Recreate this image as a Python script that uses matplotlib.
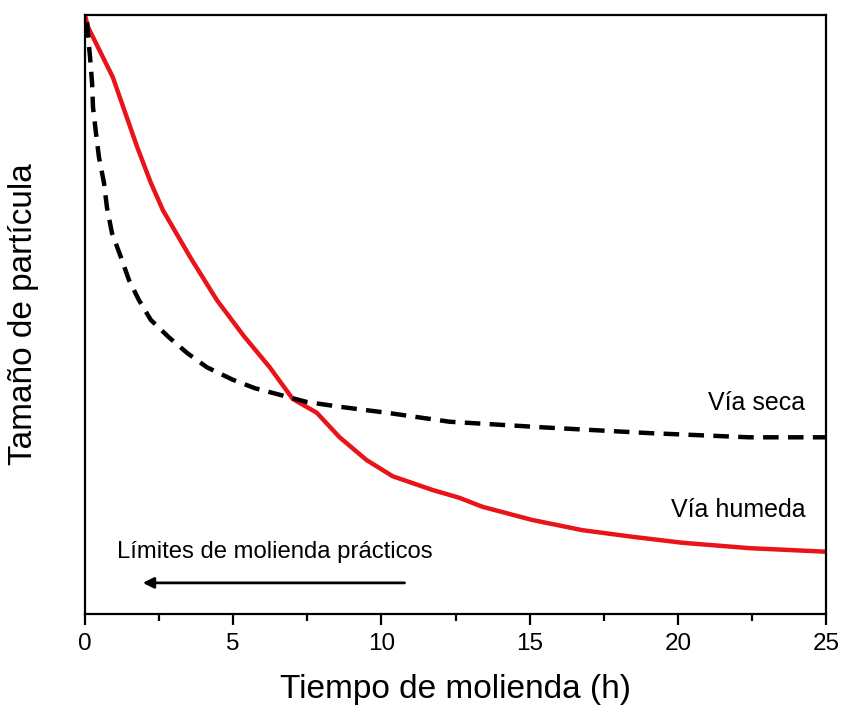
import matplotlib
matplotlib.use("Agg")
import matplotlib.pyplot as plt
from matplotlib.ticker import MultipleLocator

plt.rcParams['font.family'] = ['Liberation Sans', 'DejaVu Sans']

# Milling time (h) and relative particle size (arbitrary units)
wet_time = [0.0, 0.10, 0.94, 1.75, 2.22, 2.63, 3.57, 4.45, 5.36, 6.23, 7.01,
            7.82, 8.59, 9.50, 10.38, 11.73, 12.63, 13.41, 15.09, 16.78,
            18.46, 20.15, 22.41, 25.0]
wet_size = [100.0, 98.0, 89.6, 78.1, 72.0, 67.4, 59.4, 52.4, 46.4, 41.2, 35.9,
            33.6, 29.5, 25.7, 23.0, 20.7, 19.4, 17.9, 15.7, 14.0,
            12.9, 11.9, 11.0, 10.4]

dry_time = [0.07, 0.13, 0.17, 0.24, 0.27, 0.37, 0.47, 0.64, 0.74, 0.91, 1.21,
            1.48, 1.82, 2.22, 2.83, 3.44, 4.11, 4.99, 5.73, 6.57, 7.48,
            8.59, 10.18, 12.30, 15.67, 19.04, 22.41, 25.0]
dry_size = [98.8, 95.0, 93.0, 88.6, 84.6, 80.3, 76.3, 72.0, 67.9, 63.6, 59.6,
            55.8, 52.4, 49.1, 46.2, 43.6, 41.2, 39.1, 37.7, 36.6, 35.4,
            34.6, 33.6, 32.1, 31.1, 30.2, 29.5, 29.5]

x_ticks = [0, 5, 10, 15, 20, 25]

fig = plt.figure(figsize=(8.44, 7.07), dpi=100)
ax = fig.add_axes([0.1007, 0.1315, 0.8780, 0.8473])

ax.plot(wet_time, wet_size, color='#e8141a', lw=3.2,
        solid_joinstyle='round')
ax.plot(dry_time, dry_size, color='black', lw=3.2, dashes=(3.5, 2.1),
        dash_joinstyle='round')

ax.set_xlim(0, 25)
ax.set_ylim(0, 100)
ax.set_xticks(x_ticks)
ax.xaxis.set_minor_locator(MultipleLocator(2.5))
ax.set_yticks([])
ax.tick_params(axis='x', which='major', direction='out', length=8, width=1.6,
               labelsize=17.5, pad=6, top=False)
ax.tick_params(axis='x', which='minor', direction='out', length=5, width=1.6,
               top=False)
for sp in ax.spines.values():
    sp.set_linewidth(1.6)

ax.set_xlabel('Tiempo de molienda (h)', fontsize=24, labelpad=13)
ax.set_ylabel('Tamaño de partícula', fontsize=24)
ax.yaxis.set_label_coords(-0.062, 0.5)

ax.text(24.3, 34.1, 'Vía seca', fontsize=18, ha='right', va='baseline')
ax.text(24.3, 16.2, 'Vía humeda', fontsize=18, ha='right', va='baseline')
ax.text(1.08, 9.35, 'Límites de molienda prácticos', fontsize=17.2,
        ha='left', va='baseline')
ax.annotate('', xy=(1.95, 5.2), xytext=(10.78, 5.2),
            arrowprops=dict(arrowstyle='-|>', color='black', lw=2.0,
                            mutation_scale=16, shrinkA=0, shrinkB=0))

fig.savefig('out.png', dpi=100)
